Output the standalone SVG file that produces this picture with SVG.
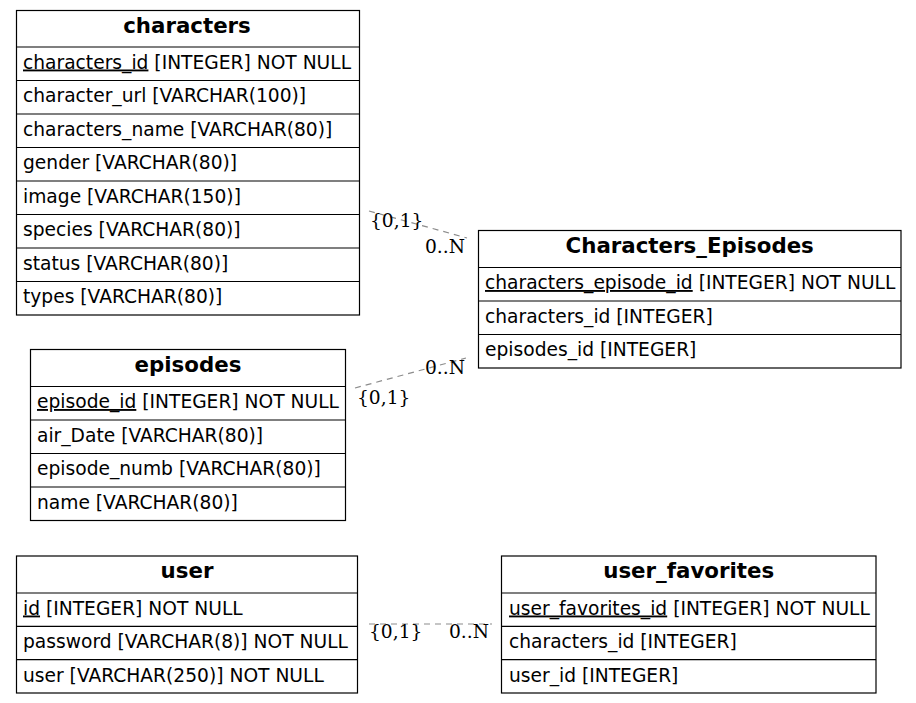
<svg xmlns="http://www.w3.org/2000/svg" width="916" height="703" viewBox="0 0 916 703">
<style>
.box{fill:#fff;stroke:#000;stroke-width:1.2}
.sep{stroke:#000;stroke-width:1.2}
.title{font-family:"DejaVu Sans",sans-serif;font-weight:bold;font-size:21.33px;text-anchor:middle;fill:#000}
.row{font-family:"DejaVu Sans",sans-serif;font-size:18.67px;fill:#000}
.pk{text-decoration:underline}
.edge{stroke:#8c8c8c;stroke-width:1.2;stroke-dasharray:6,5;fill:none}
.lbl{font-family:"DejaVu Serif",serif;font-size:18.67px;fill:#000}
</style>
<rect width="916" height="703" fill="#fff"/>
<g id="connectors">
<line class="edge" x1="369" y1="211" x2="467" y2="238"/>
<line class="edge" x1="355" y1="388" x2="466" y2="358"/>
<line class="edge" x1="369" y1="624" x2="492" y2="624"/>
<text class="lbl" x="370" y="227">{0,1}</text>
<text class="lbl" x="425" y="252.5">0..N</text>
<text class="lbl" x="425" y="373.5">0..N</text>
<text class="lbl" x="357" y="404">{0,1}</text>
<text class="lbl" x="369" y="638">{0,1}</text>
<text class="lbl" x="449" y="638">0..N</text>
</g>
<g id="characters">
<rect class="box" x="16.5" y="10.5" width="343" height="304.5"/>
<line class="sep" x1="16.5" y1="47" x2="359.5" y2="47"/>
<line class="sep" x1="16.5" y1="80.5" x2="359.5" y2="80.5"/>
<line class="sep" x1="16.5" y1="114" x2="359.5" y2="114"/>
<line class="sep" x1="16.5" y1="147.5" x2="359.5" y2="147.5"/>
<line class="sep" x1="16.5" y1="181" x2="359.5" y2="181"/>
<line class="sep" x1="16.5" y1="214.5" x2="359.5" y2="214.5"/>
<line class="sep" x1="16.5" y1="248" x2="359.5" y2="248"/>
<line class="sep" x1="16.5" y1="281.5" x2="359.5" y2="281.5"/>
<text class="title" x="187" y="32.5">characters</text>
<text class="row" x="23" y="68.5"><tspan class="pk">characters_id</tspan> [INTEGER] NOT NULL</text>
<text class="row" x="23" y="102">character_url [VARCHAR(100)]</text>
<text class="row" x="23" y="135.5">characters_name [VARCHAR(80)]</text>
<text class="row" x="23" y="169">gender [VARCHAR(80)]</text>
<text class="row" x="23" y="202.5">image [VARCHAR(150)]</text>
<text class="row" x="23" y="236">species [VARCHAR(80)]</text>
<text class="row" x="23" y="269.5">status [VARCHAR(80)]</text>
<text class="row" x="23" y="303">types [VARCHAR(80)]</text>
</g>
<g id="Characters_Episodes">
<rect class="box" x="478.5" y="230.5" width="422.5" height="137.5"/>
<line class="sep" x1="478.5" y1="267.5" x2="901" y2="267.5"/>
<line class="sep" x1="478.5" y1="301" x2="901" y2="301"/>
<line class="sep" x1="478.5" y1="334.5" x2="901" y2="334.5"/>
<text class="title" x="689.7" y="252.5">Characters_Episodes</text>
<text class="row" x="485" y="289"><tspan class="pk">characters_episode_id</tspan> [INTEGER] NOT NULL</text>
<text class="row" x="485" y="322.5">characters_id [INTEGER]</text>
<text class="row" x="485" y="356">episodes_id [INTEGER]</text>
</g>
<g id="episodes">
<rect class="box" x="30.5" y="349.5" width="315" height="171"/>
<line class="sep" x1="30.5" y1="386.5" x2="345.5" y2="386.5"/>
<line class="sep" x1="30.5" y1="420" x2="345.5" y2="420"/>
<line class="sep" x1="30.5" y1="453.5" x2="345.5" y2="453.5"/>
<line class="sep" x1="30.5" y1="487" x2="345.5" y2="487"/>
<text class="title" x="188" y="371.5">episodes</text>
<text class="row" x="37" y="408"><tspan class="pk">episode_id</tspan> [INTEGER] NOT NULL</text>
<text class="row" x="37" y="441.5">air_Date [VARCHAR(80)]</text>
<text class="row" x="37" y="475">episode_numb [VARCHAR(80)]</text>
<text class="row" x="37" y="508.5">name [VARCHAR(80)]</text>
</g>
<g id="user">
<rect class="box" x="16.5" y="556" width="341" height="137"/>
<line class="sep" x1="16.5" y1="593" x2="357.5" y2="593"/>
<line class="sep" x1="16.5" y1="626.3" x2="357.5" y2="626.3"/>
<line class="sep" x1="16.5" y1="659.7" x2="357.5" y2="659.7"/>
<text class="title" x="187" y="578">user</text>
<text class="row" x="23" y="614.5"><tspan class="pk">id</tspan> [INTEGER] NOT NULL</text>
<text class="row" x="23" y="648">password [VARCHAR(8)] NOT NULL</text>
<text class="row" x="23" y="681.5">user [VARCHAR(250)] NOT NULL</text>
</g>
<g id="user_favorites">
<rect class="box" x="501.5" y="556" width="374.5" height="137"/>
<line class="sep" x1="501.5" y1="593" x2="876" y2="593"/>
<line class="sep" x1="501.5" y1="626.3" x2="876" y2="626.3"/>
<line class="sep" x1="501.5" y1="659.7" x2="876" y2="659.7"/>
<text class="title" x="688.7" y="578">user_favorites</text>
<text class="row" x="509" y="614.5"><tspan class="pk">user_favorites_id</tspan> [INTEGER] NOT NULL</text>
<text class="row" x="509" y="648">characters_id [INTEGER]</text>
<text class="row" x="509" y="681.5">user_id [INTEGER]</text>
</g>
</svg>
